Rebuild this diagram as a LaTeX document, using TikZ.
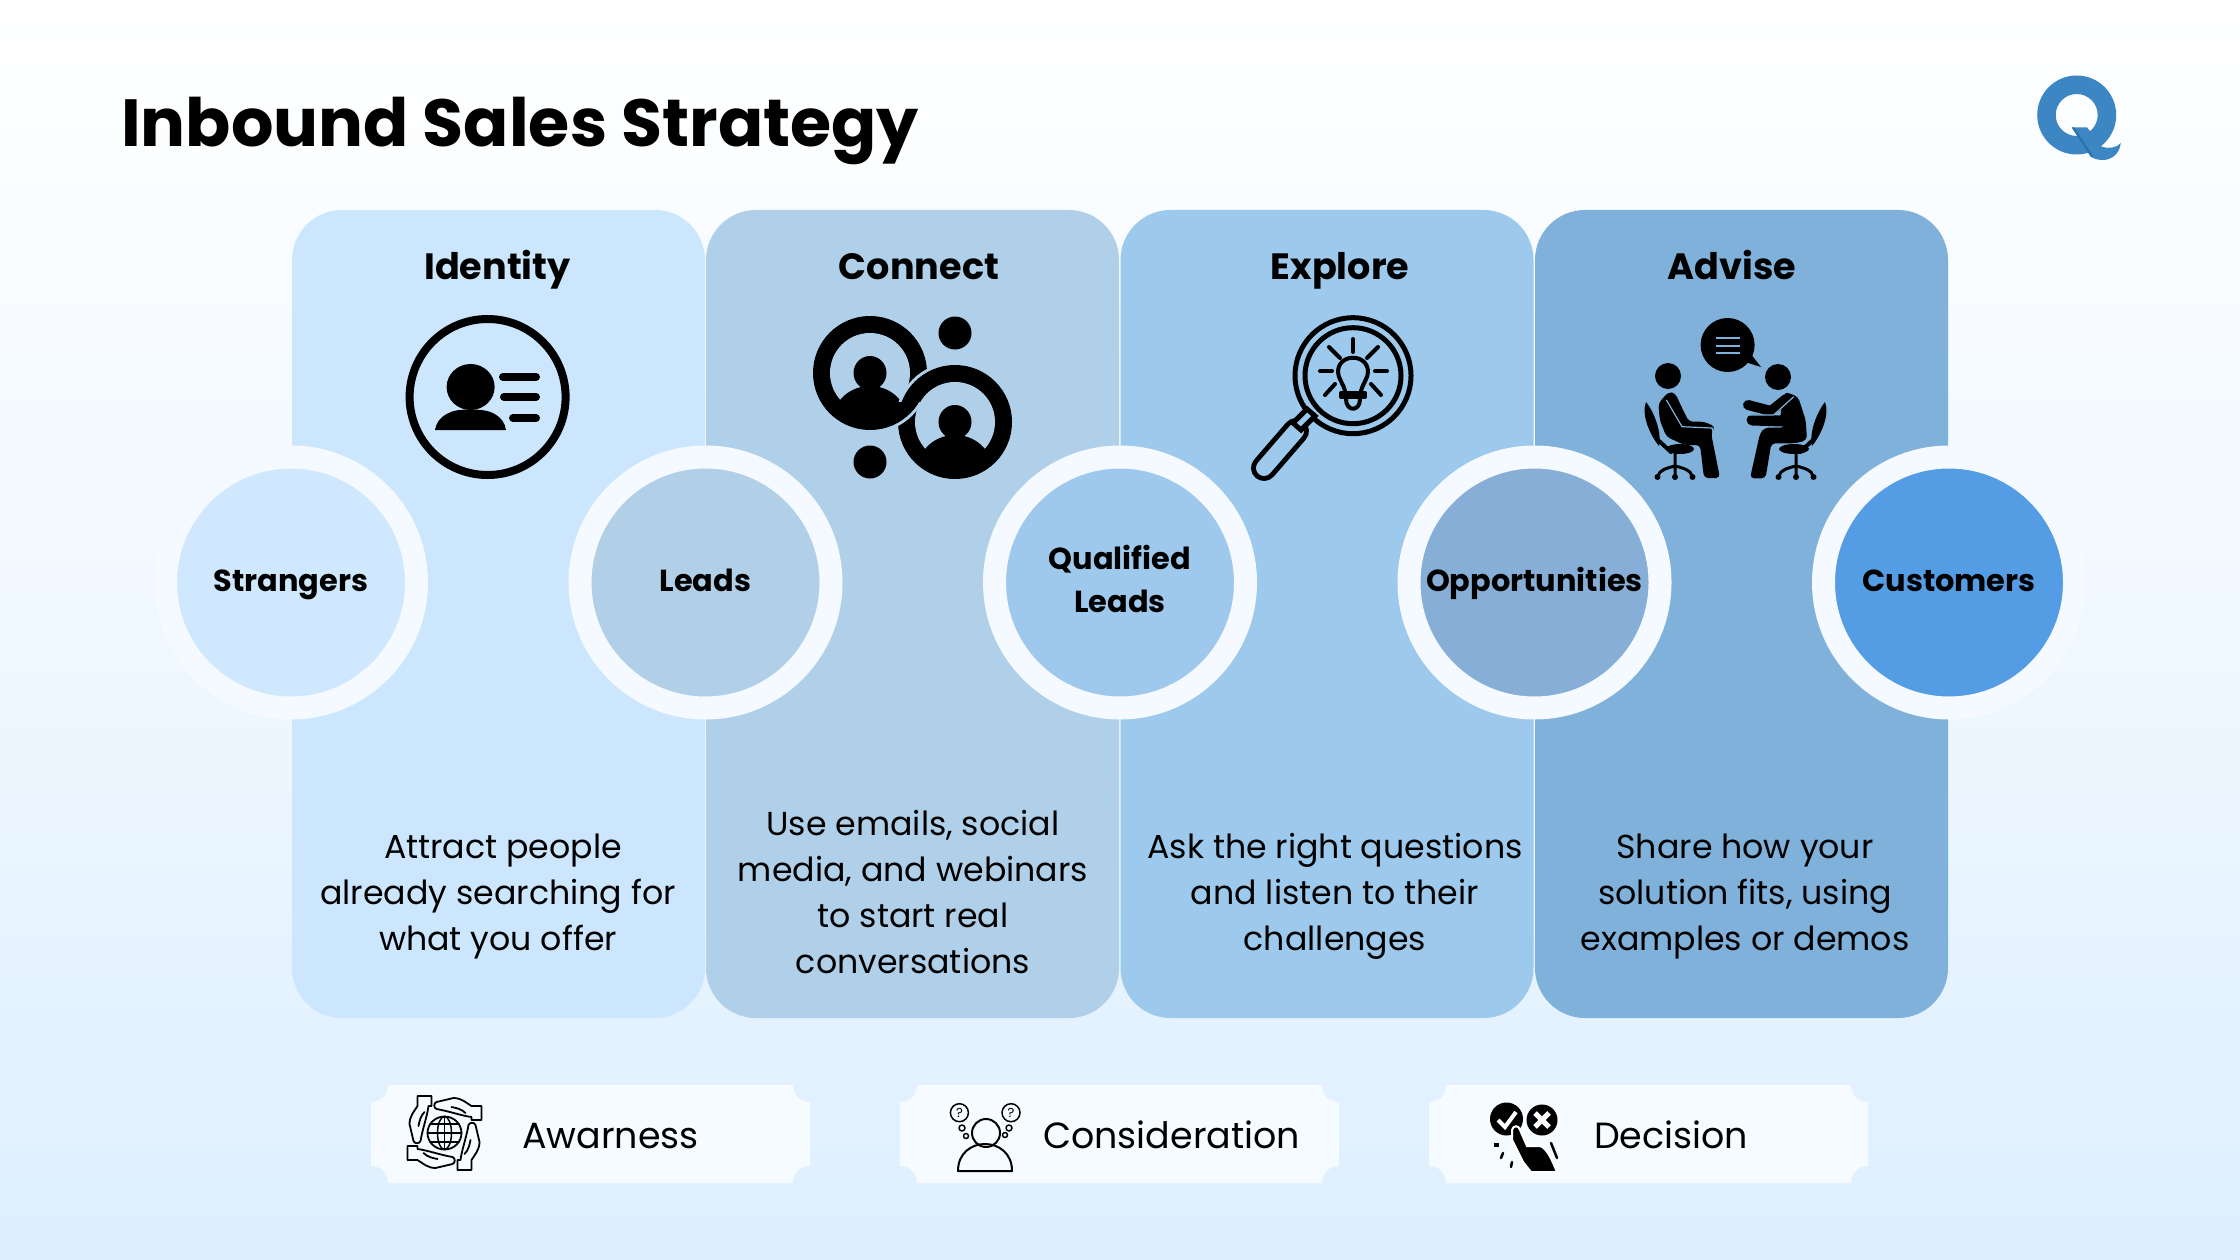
\documentclass[tikz,border=0pt]{standalone}
\usepackage{fontspec}
\setmainfont{Poppins}
\usetikzlibrary{positioning}

\definecolor{bandA}{HTML}{CCE7FD}
\definecolor{bandB}{HTML}{B0D0EA}
\definecolor{bandC}{HTML}{9DC9EC}
\definecolor{bandD}{HTML}{80B1DA}
\definecolor{discA}{HTML}{D0E8FD}
\definecolor{discB}{HTML}{B2CFE8}
\definecolor{discC}{HTML}{9FC9EC}
\definecolor{discD}{HTML}{87AED6}
\definecolor{discE}{HTML}{549CE3}
\definecolor{halo}{HTML}{F4FAFF}
\definecolor{backdrop}{HTML}{DDEFFF}
\definecolor{logoblue}{HTML}{3C86C4}
\definecolor{logodark}{HTML}{2E6FA8}

\tikzset{
    contact/.pic={
        \fill[bandB] (0,0) circle[radius=60pt];
        \fill[black] (0,0) circle[radius=57pt];
        \fill[bandB] (0,0) circle[radius=40pt];
        \fill[black] (0,0) ellipse[x radius=16.5pt, y radius=17pt];
        \begin{scope}
            \clip (0,0) circle[radius=50pt];
            \fill[black] (0,47) ellipse[x radius=37pt, y radius=34pt];
        \end{scope}
    },
    wrist/.pic={
        \draw[black, line width=1.8pt, line join=round, fill=none]
            (-37,13) -- (-27,13) -- (-27,16) .. controls (-18,17) and (-4,22) .. (8,24)
            .. controls (11,25) and (11,30) .. (8,31) -- (-9,35)
            .. controls (-17,35) and (-22,30) .. (-27,27) -- (-37,27) -- cycle;
        \draw[black, line width=1.8pt, line cap=round] (-21,20) .. controls (-17,24) and (-12,25) .. (-7,26);
    },
    ticket/.pic={
        \fill[halo!85!white] (0,17) .. controls (10,17) and (17,10) .. (17,0) -- (422,0)
            .. controls (422,10) and (429,17) .. (439,17) -- (439,81)
            .. controls (429,81) and (422,88) .. (422,98) -- (17,98)
            .. controls (17,88) and (10,81) .. (0,81) -- cycle;
    },
    wheelbase/.pic={
        \draw[black, line width=3pt, line cap=round] (0,-26) -- (0,0) (0,-11) .. controls (-8,-9) and (-16,-7) .. (-17,-1) (0,-11) .. controls (8,-9) and (16,-7) .. (17,-1);
        \fill[black] (-17.5,0) circle[radius=3pt] (0,0) circle[radius=3pt] (17.5,0) circle[radius=3pt];
    }
}

\begin{document}
\begin{tikzpicture}[x=1pt, y=-1pt,
    panel/.style={rectangle, rounded corners=50pt, minimum width=413pt, minimum height=808pt, inner sep=0pt},
    ring/.style={circle, draw=halo, line width=23pt, minimum size=251pt, inner sep=0pt, align=center,
        font=\fontsize{30.4}{43}\selectfont\bfseries,
        execute at begin node=\rule{0pt}{26pt}, execute at end node=\vphantom{Ag}},
    heading/.style={anchor=base, inner sep=0pt, font=\fontsize{36.6}{46}\selectfont\bfseries},
    blurb/.style={align=center, inner sep=0pt, font=\fontsize{33.2}{46}\selectfont},
    tag/.style={anchor=base west, inner sep=0pt, font=\fontsize{36.4}{46}\selectfont},
    ink/.style={black, line width=#1, line cap=round, line join=round},
    ink/.default=5pt
]
    \useasboundingbox (0,0) rectangle (2240,1260);
    \shade[top color=white, bottom color=backdrop, middle color=backdrop!45!white] (0,0) rectangle (2240,1260);

    \node (title) at (121,147) [anchor=base west, inner sep=0pt, font=\fontsize{66.7}{80}\selectfont\bfseries] {Inbound Sales Strategy};

    % Logo
    \fill[logoblue, even odd rule] (2076.7,115) circle[radius=39.5pt] (2076.7,115) circle[radius=21pt];
    \fill[logoblue] (2071.7,127.3) -- (2087,127.3) -- (2101.7,146.7)
        .. controls (2108,149) and (2117,148) .. (2120.7,143)
        .. controls (2120,153) and (2112,160) .. (2103,160)
        .. controls (2098,160) and (2095,159) .. (2091,157) -- cycle;
    \fill[logodark] (2071.7,127.3) -- (2074,127.3) -- (2093,156) -- (2091,157) -- cycle;

    % Panels
    \node (identity) at (498.5,614) [panel, fill=bandA] {};
    \node (connect) at (912.5,614) [panel, fill=bandB] {};
    \node (explore) at (1327,614) [panel, fill=bandC] {};
    \node (advise) at (1741.5,614) [panel, fill=bandD] {};

    % Headings
    \node (identityhead) at (497.5,279.5) [heading] {Identity};
    \node (connecthead) at (919,279.5) [heading] {Connect};
    \node (explorehead) at (1340,279.5) [heading] {Explore};
    \node (advisehead) at (1732,279.5) [heading] {Advise};

    % Identity icon
    \draw[ink=8pt] (487.6,397) circle[radius=78pt];
    \fill[black] (470.6,387) ellipse[x radius=24pt, y radius=23pt];
    \fill[black] (435,430) .. controls (437,416) and (452,408) .. (470,410)
        .. controls (490,408) and (504,416) .. (506,430) -- cycle;
    \draw[ink=8pt] (503,377) -- (536,377);
    \draw[ink=8pt] (504,397) -- (536,397);
    \draw[ink=8pt] (513,418) -- (536,418);

    % Connect icon
    \pic at (870,373) {contact};
    \pic at (955,422) {contact};
    \begin{scope}
        \clip (780,402) rectangle (1010,500);
        \pic at (870,373) {contact};
    \end{scope}
    \fill[black] (955,333) circle[radius=16.5pt];
    \fill[black] (870,462) circle[radius=16.5pt];

    % Explore icon
    \draw[ink=5pt] (1353,375.7) circle[radius=58pt];
    \draw[ink=5pt] (1353,375.7) circle[radius=48pt];
    \draw[black, line width=26pt, line cap=round] (1296,431) -- (1264,468);
    \draw[bandC, line width=16pt, line cap=round] (1296,431) -- (1264,468);
    \draw[black, line width=5pt, fill=bandC] (1301,430) -- (1293,423) -- (1307,409) -- (1315,416) -- cycle;
    \draw[ink=4pt] (1353,339) -- (1353,352);
    \draw[ink=4pt] (1320,371) -- (1332,371);
    \draw[ink=4pt] (1375,371) -- (1387,371);
    \draw[ink=4pt] (1329,347) -- (1340,358);
    \draw[ink=4pt] (1378,347) -- (1367,358);
    \draw[ink=4pt] (1325,395) -- (1335,384);
    \draw[ink=4pt] (1381,395) -- (1371,384);
    \draw[ink=4pt] (1345,391) .. controls (1343,383) and (1338,378) .. (1338,372)
        .. controls (1338,353) and (1368,353) .. (1368,372)
        .. controls (1368,378) and (1363,383) .. (1361,391);
    \draw[ink=4pt] (1341,393) -- (1365,393) -- (1365,397) -- (1341,397) -- cycle;
    \draw[ink=4pt] (1346,399) .. controls (1346,412) and (1360,412) .. (1360,399);

    % Advise icon
    \fill[black] (1727.6,345) ellipse[x radius=27pt, y radius=27pt];
    \fill[black] (1745,362) -- (1761,367) -- (1750,353) -- cycle;
    \draw[bandD, line width=2.5pt] (1716,338) -- (1740,338) (1716,346) -- (1740,346) (1716,353) -- (1740,353);
    \fill[black] (1668,376) circle[radius=13pt];
    \fill[black] (1778,377) circle[radius=13pt];
    % left sitter
    \fill[black, rounded corners=4pt] (1668.7,391.7) -- (1658.4,403.3) -- (1659.7,420) -- (1666.4,436.7)
        -- (1684.3,445) -- (1700,445) -- (1704,478) -- (1720,478) -- (1711,433) -- (1715.5,426.7)
        -- (1704,421.7) -- (1688.8,421.7) -- (1679.8,403.3) -- (1675.4,393.3) -- cycle;
    \draw[bandD, line width=1.2pt] (1666.4,400) -- (1682,426.7) -- (1712,428) -- (1714,436);
    % right sitter
    \fill[black, rounded corners=4pt] (1784.7,391.7) -- (1798,396.7) -- (1805.7,420) -- (1807,440)
        -- (1796,443.3) -- (1771.3,443.3) -- (1765.5,478.3) -- (1750,478.3) -- (1760,433.3)
        -- (1764.6,427.7) -- (1784.7,427.7) -- (1780,416.7) -- cycle;
    \draw[ink=10pt] (1786,399) -- (1771,411) -- (1748,405);
    \draw[ink=11pt] (1782,421) -- (1752,420);
    \draw[bandD, line width=1.2pt] (1793.7,396.7) -- (1773.6,415) -- (1748,415);
    % chairs
    \fill[black] (1646,402) .. controls (1641,415) and (1650,435) .. (1659,446) .. controls (1662,432) and (1654,412) .. (1646,402);
    \draw[ink=4pt] (1658,440) -- (1671,452);
    \fill[black] (1680,449) ellipse[x radius=14pt, y radius=5pt];
    \pic at (1675,477) {wheelbase};
    \fill[black] (1825,402) .. controls (1830,415) and (1821,435) .. (1812,446) .. controls (1809,432) and (1817,412) .. (1825,402);
    \draw[ink=4pt] (1813,440) -- (1800,452);
    \fill[black] (1794,449) ellipse[x radius=15pt, y radius=5pt];
    \pic at (1796,477) {wheelbase};

    % Circles
    \node (strangers) at (291,582.5) [ring, fill=discA] {Strangers};
    \node (leads) at (705.5,582.5) [ring, fill=discB] {Leads};
    \node (qualified) at (1120,582.5) [ring, fill=discC] {Qualified\\Leads};
    \node (opportunities) at (1534.5,582.5) [ring, fill=discD] {Opportunities};
    \node (customers) at (1949,582.5) [ring, fill=discE] {Customers};

    % Text
    \node (identitytext) at (498,896) [blurb] {\hspace*{10pt}Attract people\\already searching for\\what you offer};
    \node (connecttext) at (913,892) [blurb] {Use emails, social\\media, and webinars\\to start real\\conversations};
    \node (exploretext) at (1335,896) [blurb] {Ask the right questions\\and listen to their\\challenges};
    \node (advisetext) at (1745,897) [blurb] {Share how your\\solution fits, using\\examples or demos};

    % Bottom strip
    \pic at (371,1085) {ticket};
    \pic at (900,1085) {ticket};
    \pic at (1429,1085) {ticket};
    \node (awareness) at (522,1148) [tag] {Awarness};
    \node (consideration) at (1043,1148) [tag] {Consideration};
    \node (decision) at (1594,1148) [tag] {Decision};

    % Awareness icon
    \pic at (444.5,1133) {wrist};
    \pic[rotate=90] at (444.5,1133) {wrist};
    \pic[rotate=180] at (444.5,1133) {wrist};
    \pic[rotate=270] at (444.5,1133) {wrist};
    \draw[ink=1.8pt] (444.5,1133) ellipse[x radius=17pt, y radius=16.5pt];
    \draw[ink=1.5pt] (444.5,1133) ellipse[x radius=7pt, y radius=16.5pt];
    \draw[ink=1.5pt] (444.5,1116.5) -- (444.5,1149.5);
    \draw[ink=1.5pt] (427.5,1133) -- (461.5,1133) (430,1124) -- (459,1124) (430,1142) -- (459,1142);

    % Consideration icon
    \draw[ink=2pt] (986,1133) circle[radius=14pt];
    \draw[ink=2pt] (958,1171) .. controls (958,1135) and (1012,1135) .. (1012,1171) -- cycle;
    \node (askleft) at (959.4,1112.7) [circle, draw=black, line width=1.5pt, minimum size=18pt, inner sep=0pt, font=\fontsize{13}{13}\selectfont] {?};
    \node (askright) at (1011,1112.7) [circle, draw=black, line width=1.5pt, minimum size=18pt, inner sep=0pt, font=\fontsize{13}{13}\selectfont] {?};
    \draw[ink=1.5pt] (962,1128) circle[radius=3pt] (966,1136) circle[radius=2.5pt] (1009,1128) circle[radius=3pt] (1005,1135) circle[radius=2.5pt];

    % Decision icon
    \fill[black] (1506.5,1119) circle[radius=16.5pt];
    \fill[black] (1542,1120) circle[radius=15.5pt];
    \draw[white, line width=4pt] (1498,1120) -- (1505,1127) -- (1516,1112);
    \draw[white, line width=5pt] (1535,1113) -- (1549,1127) (1549,1113) -- (1535,1127);
    \draw[white, line width=2pt, fill=black] (1512,1130) .. controls (1513,1125) and (1519,1125) .. (1520,1130)
        -- (1527,1146) -- (1540,1146) .. controls (1547,1148) and (1552,1160) .. (1557,1172) -- (1531,1172)
        -- (1523,1162) -- (1512,1140) -- cycle;
    \draw[ink=2.5pt] (1551,1143) -- (1557,1158);
    \fill[black] (1494,1143) rectangle (1499,1147);
    \draw[ink=2.5pt] (1503,1153) -- (1501,1158);
    \draw[ink=2.5pt] (1512,1162) -- (1511,1167);
\end{tikzpicture}
\end{document}
